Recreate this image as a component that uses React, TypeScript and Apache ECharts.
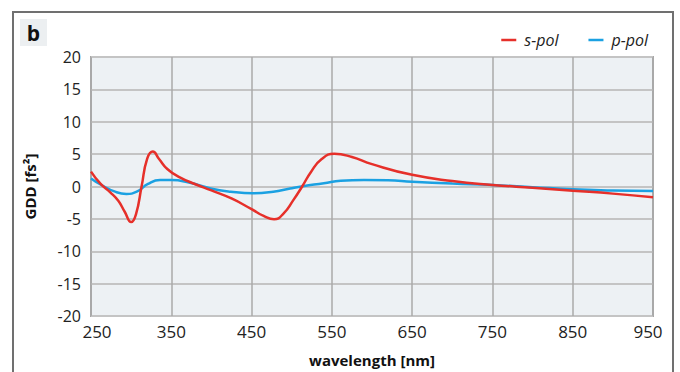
import React, { useEffect, useRef } from "react";
import * as echarts from "echarts";

// wavelength (nm) and GDD (fs²)
const sPolWavelength = [250, 262, 274, 284, 292, 300, 306, 313, 320, 327, 335, 345, 360, 380, 400, 425, 450, 465, 478, 490, 502, 513, 524, 537, 553, 575, 600, 650, 700, 750, 800, 850, 900, 950];
const sPolGDD = [2.3, 0.4, -0.9, -2.2, -3.9, -5.5, -4.3, 0, 4.3, 5.4, 4.2, 2.7, 1.45, 0.35, -0.6, -1.85, -3.5, -4.55, -5.07, -4.15, -2.1, 0, 2.25, 4.2, 5.05, 4.55, 3.45, 1.8, 0.85, 0.25, -0.2, -0.65, -1.1, -1.65];

const pPolWavelength = [250, 263, 280, 294, 307, 321, 336, 350, 372, 399, 424, 452, 477, 498, 514, 540, 561, 590, 620, 650, 700, 750, 800, 850, 900, 950];
const pPolGDD = [1.25, 0.23, -0.8, -1.15, -0.8, 0.4, 1.0, 1.0, 0.62, -0.3, -0.8, -1.05, -0.8, -0.3, 0.05, 0.5, 0.9, 1.02, 0.98, 0.75, 0.45, 0.22, -0.1, -0.43, -0.6, -0.7];

const xMin = 250;
const xMax = 950;
const xStep = 100;
const yMin = -20;
const yMax = 20;
const yStep = 5;

const seriesNames = ["s-pol", "p-pol"];
const xTitle = "wavelength [nm]";
const yTitle = "GDD [fs²]";
const panelLabel = "b";

const FONT = "'Open Sans', 'Noto Sans', sans-serif";

export default function App() {
  const ref = useRef<HTMLDivElement>(null);

  useEffect(() => {
    if (!ref.current) return;
    const chart = echarts.init(ref.current, null, { renderer: "svg" });
    // axis offset so ticks fall at 250, 350, ... (ticks counted from a multiple of the interval)
    const toX = (w: number) => w - xMin;
    const sData = sPolWavelength.map((w, i) => [toX(w), sPolGDD[i]]);
    const pData = pPolWavelength.map((w, i) => [toX(w), pPolGDD[i]]);

    chart.setOption({
      animation: false,
      backgroundColor: "#ffffff",
      textStyle: { fontFamily: FONT },
      grid: {
        left: 91,
        top: 57,
        width: 562,
        height: 259,
        show: true,
        backgroundColor: "#edf1f4",
        borderColor: "#a6a6a6",
        borderWidth: 2,
      },
      legend: {
        data: [
          { name: seriesNames[0], icon: "rect" },
          { name: seriesNames[1], icon: "rect" },
        ],
        right: 27,
        top: 27,
        itemWidth: 15,
        itemHeight: 2.5,
        itemGap: 30,
        textStyle: {
          fontFamily: FONT,
          fontSize: 16,
          fontStyle: "italic",
          color: "#222",
          padding: [0, 0, 0, 3],
        },
      },
      xAxis: {
        type: "value",
        min: 0,
        max: xMax - xMin,
        interval: xStep,
        name: xTitle,
        nameLocation: "middle",
        nameGap: 36,
        nameTextStyle: { fontFamily: FONT, fontSize: 15, fontWeight: "bold", color: "#111" },
        axisLine: { show: false },
        axisTick: { show: false },
        axisLabel: {
          margin: 7,
          fontFamily: FONT,
          fontSize: 17,
          color: "#222",
          formatter: (v: number) => {
            const w = v + xMin;
            if (w === xMin) return "{first|" + w + "}";
            if (w === xMax) return "{last|" + w + "}";
            return String(w);
          },
          rich: {
            first: { fontFamily: FONT, fontSize: 17, color: "#222", padding: [0, 0, 0, 12] },
            last: { fontFamily: FONT, fontSize: 17, color: "#222", padding: [0, 10, 0, 0] },
          },
        },
        splitLine: { show: true, lineStyle: { color: "#aaaaaa", width: 1.5 } },
      },
      yAxis: {
        type: "value",
        min: yMin,
        max: yMax,
        interval: yStep,
        name: yTitle,
        nameLocation: "middle",
        nameGap: 54,
        nameRotate: 90,
        nameTextStyle: { fontFamily: FONT, fontSize: 15, fontWeight: "bold", color: "#111" },
        axisLine: { show: false },
        axisTick: { show: false },
        axisLabel: { margin: 10, fontFamily: FONT, fontSize: 16, color: "#222" },
        splitLine: { show: true, lineStyle: { color: "#c4c4c4", width: 2 } },
      },
      graphic: [
        {
          type: "rect",
          silent: true,
          shape: { x: 13, y: 12, width: 660, height: 420 },
          style: { fill: "none", stroke: "#707070", lineWidth: 2 },
        },
        {
          type: "rect",
          silent: true,
          shape: { x: 20, y: 19, width: 27, height: 27 },
          style: { fill: "#eceff1" },
        },
        {
          type: "text",
          silent: true,
          x: 33.5,
          y: 33,
          style: {
            text: panelLabel,
            fontFamily: FONT,
            fontSize: 21,
            fontWeight: "bold",
            fill: "#111",
            align: "center",
            verticalAlign: "middle",
          },
        },
      ],
      series: [
        {
          name: seriesNames[1],
          type: "line",
          data: pData,
          smooth: 0.5,
          showSymbol: false,
          symbol: "none",
          lineStyle: { color: "#1ba1e2", width: 2.5 },
          itemStyle: { color: "#1ba1e2" },
          z: 2,
        },
        {
          name: seriesNames[0],
          type: "line",
          data: sData,
          smooth: 0.5,
          showSymbol: false,
          symbol: "none",
          lineStyle: { color: "#e6302a", width: 2.5 },
          itemStyle: { color: "#e6302a" },
          z: 3,
        },
      ],
    });
    return () => chart.dispose();
  }, []);

  return (
    <div
      ref={ref}
      style={{ position: "fixed", left: 0, top: 0, width: 680, height: 372 }}
    />
  );
}
